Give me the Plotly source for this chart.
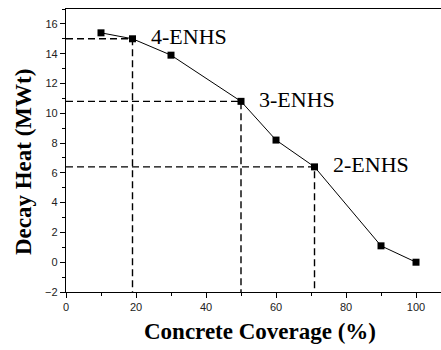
import plotly.graph_objects as go

coverage = [10, 19, 30, 50, 60, 71, 90, 100]
decay_heat = [15.4, 15.0, 13.9, 10.8, 8.2, 6.4, 1.1, 0.0]

enhs_labels = ["4-ENHS", "3-ENHS", "2-ENHS"]
enhs_index = [1, 3, 5]

x_title = "Concrete Coverage (%)"
y_title = "Decay Heat (MWt)"

X_MIN, X_MAX = 0, 107.14
Y_MIN, Y_MAX = -2, 17

fig = go.Figure()

# dashed guide lines from each ENHS point to the axes
for i in enhs_index:
    px, py = coverage[i], decay_heat[i]
    fig.add_trace(go.Scatter(
        x=[X_MIN, px, px], y=[py, py, Y_MIN], mode="lines",
        line=dict(color="black", width=1.4, dash="7px,4px"),
        showlegend=False, hoverinfo="skip"))

fig.add_trace(go.Scatter(
    x=coverage, y=decay_heat, mode="lines+markers",
    line=dict(color="black", width=1),
    marker=dict(symbol="square", size=7, color="black"),
    showlegend=False))

for lab, i in zip(enhs_labels, enhs_index):
    fig.add_annotation(
        x=coverage[i], y=decay_heat[i], text=lab, showarrow=False,
        xanchor="left", yanchor="middle", xshift=16, yshift=2,
        font=dict(family="Liberation Serif", size=22, color="black"))

fig.add_annotation(
    xref="paper", yref="paper", x=0.517, y=-0.141, text=x_title,
    showarrow=False, xanchor="center", yanchor="middle",
    font=dict(family="Liberation Serif", size=23, color="black", weight="bold"))
fig.add_annotation(
    xref="paper", yref="paper", x=-0.1147, y=0.459, text=y_title,
    showarrow=False, xanchor="center", yanchor="middle", textangle=-90,
    font=dict(family="Liberation Serif", size=23, color="black", weight="bold"))

axis_common = dict(
    showgrid=False, zeroline=False, showline=True, linecolor="black",
    linewidth=1.3, ticks="outside", ticklen=5, tickwidth=1, tickcolor="black",
    tickfont=dict(family="Liberation Sans", size=11, color="#222"),
)

fig.update_xaxes(range=[X_MIN, X_MAX], tick0=0, dtick=20, mirror=True,
                 minor=dict(dtick=10, ticks="outside", ticklen=3, tickcolor="black"),
                 **axis_common)
fig.update_yaxes(range=[Y_MIN, Y_MAX], tick0=0, dtick=2,
                 minor=dict(dtick=1, ticks="outside", ticklen=3, tickcolor="black"),
                 **axis_common)

fig.update_layout(
    width=441, height=350,
    margin=dict(l=66, r=0, t=9, b=58),
    plot_bgcolor="white", paper_bgcolor="white",
)

fig.write_html("out.html")
